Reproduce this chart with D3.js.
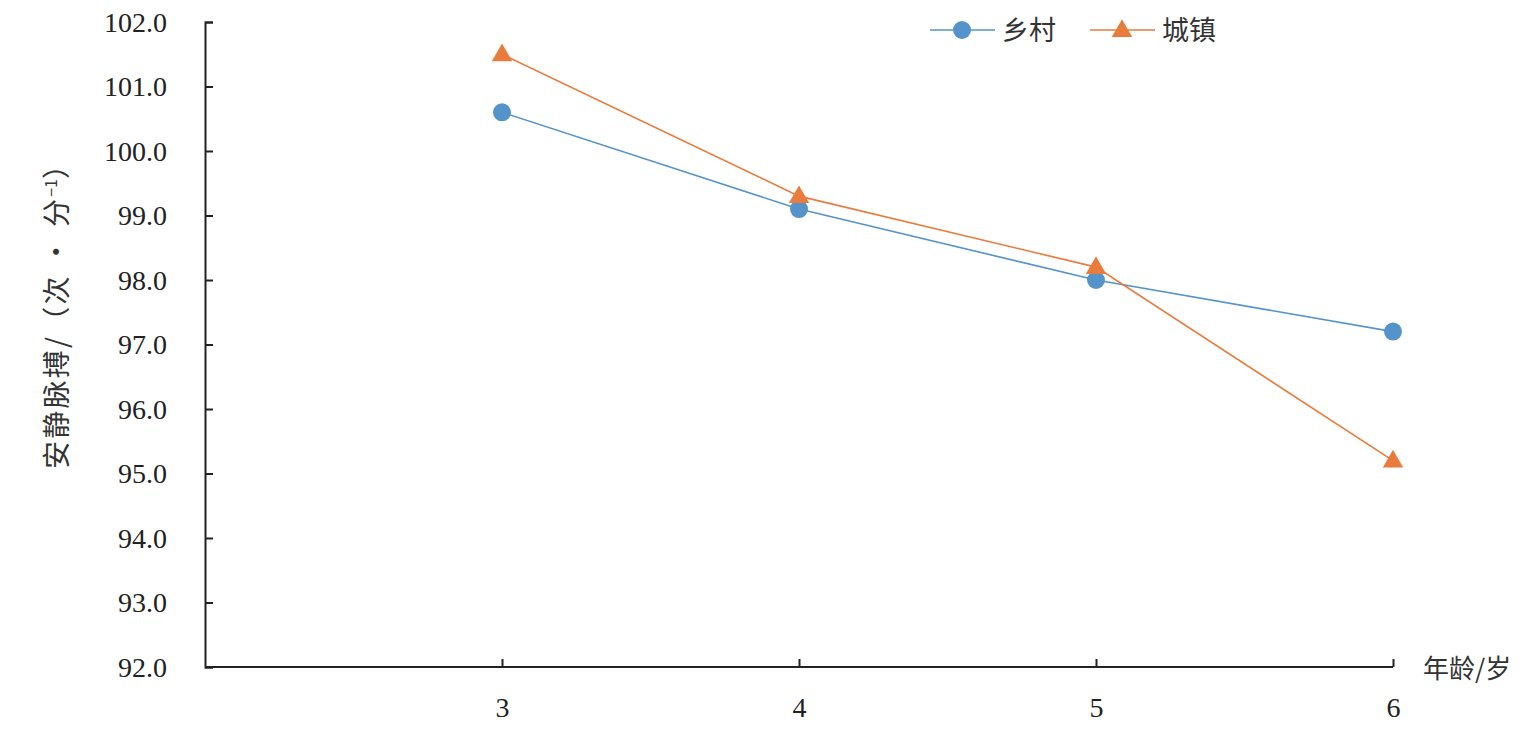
<!DOCTYPE html>
<html><head><meta charset="utf-8">
<script src="https://cdn.jsdelivr.net/npm/d3@7"></script>
<style>body{margin:0;background:#fff}</style>
</head><body>
<svg id="c" width="1536" height="730"></svg>
<script>
const ages = [3, 4, 5, 6];
const rural = [100.6, 99.1, 98.0, 97.2];
const urban = [101.5, 99.3, 98.2, 95.2];
const yTicks = [92, 93, 94, 95, 96, 97, 98, 99, 100, 101, 102];
const seriesNames = ["乡村", "城镇"];
const colors = ["#5593cb", "#e97b3c"];

const svg = d3.select("#c");
const x = d3.scaleLinear().domain([2, 6]).range([205, 1393]);
const y = d3.scaleLinear().domain([92, 102]).range([667, 22]);
const serif = "'Liberation Serif','Times New Roman',serif";
const cjk = "'Noto Sans CJK SC',sans-serif";

// y axis
const ya = svg.append("g").attr("transform", "translate(205,0)")
  .call(d3.axisRight(y).tickValues(yTicks).tickSize(8).tickFormat(d3.format(".1f")));
ya.attr("font-family", serif);
ya.select(".domain").attr("stroke", "#222").attr("stroke-width", 2);
ya.selectAll(".tick line").attr("stroke", "#222").attr("stroke-width", 2);
ya.selectAll(".tick text").attr("x", -38).attr("text-anchor", "end")
  .style("font-family", serif).style("font-size", "28px").attr("fill", "#222").attr("dy", "0.33em");

// x axis
const xa = svg.append("g").attr("transform", "translate(0,667)")
  .call(d3.axisBottom(x).tickValues(ages).tickSize(-8).tickFormat(d3.format("d")));
xa.attr("font-family", serif);
xa.select(".domain").attr("stroke", "#222").attr("stroke-width", 2).attr("d", "M205,0H1393");
xa.selectAll(".tick line").attr("stroke", "#222").attr("stroke-width", 2);
xa.selectAll(".tick text").attr("y", 30).attr("dy", "0.71em")
  .style("font-family", serif).style("font-size", "28px").attr("fill", "#222");

// axis titles
svg.append("text").attr("x", 1423).attr("y", 678)
  .style("font-family", cjk).style("font-size", "26px").attr("fill", "#333").text("年龄/岁");
const yl = svg.append("text").attr("transform", "translate(67,310) rotate(-90)")
  .attr("text-anchor", "middle").style("font-family", cjk).style("font-size", "28px").attr("fill", "#333");
yl.append("tspan").attr("textLength", 270).attr("lengthAdjust", "spacing").text("安静脉搏/（次 · 分");
yl.append("tspan").attr("dy", -10).style("font-size", "16px").text("−1");
yl.append("tspan").attr("dy", 10).text("）");

// lines
const data = [rural, urban];
const line = d3.line().x((d, i) => x(ages[i])).y(d => y(d));
data.forEach((s, k) => {
  svg.append("path").datum(s).attr("d", line).attr("fill", "none")
    .attr("stroke", colors[k]).attr("stroke-width", 1.6);
});
const tri = d3.symbol().type(d3.symbolTriangle).size(180);
svg.selectAll(".pt0").data(rural).join("circle")
  .attr("cx", (d, i) => x(ages[i])).attr("cy", d => y(d)).attr("r", 9).attr("fill", colors[0]);
svg.selectAll(".pt1").data(urban).join("path")
  .attr("d", tri).attr("transform", (d, i) => `translate(${x(ages[i])},${y(d) + 1})`).attr("fill", colors[1]);

// legend
const lg = [{x: 930}, {x: 1090}];
lg.forEach((l, k) => {
  svg.append("line").attr("x1", l.x).attr("x2", l.x + 65).attr("y1", 30).attr("y2", 30)
    .attr("stroke", colors[k]).attr("stroke-width", 1.6);
  if (k === 0) svg.append("circle").attr("cx", l.x + 32).attr("cy", 30).attr("r", 9).attr("fill", colors[0]);
  else svg.append("path").attr("d", tri).attr("transform", `translate(${l.x + 32},31)`).attr("fill", colors[1]);
  svg.append("text").attr("x", l.x + 72).attr("y", 40).style("font-family", cjk)
    .style("font-size", "27px").attr("fill", "#333").text(seriesNames[k]);
});
</script>
</body></html>
